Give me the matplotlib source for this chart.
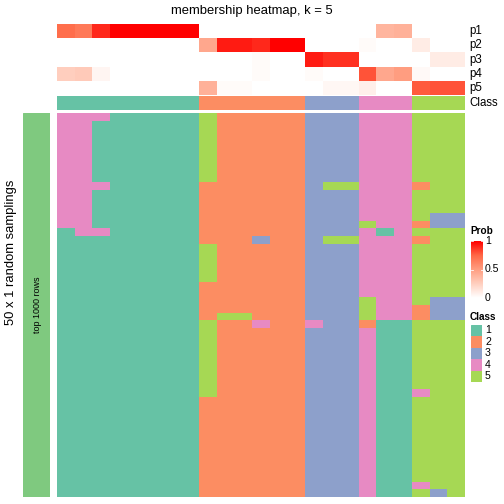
import numpy as np
import matplotlib
matplotlib.use("Agg")
import matplotlib.pyplot as plt
from matplotlib.colors import ListedColormap, LinearSegmentedColormap

plt.rcParams['font.family'] = ['Liberation Sans', 'DejaVu Sans']

# per-column membership probabilities (23 samples)
p1 = [0.72, 0.67, 0.9, 1, 1, 1, 1, 1, 0, 0, 0, 0, 0, 0, 0, 0, 0, 0, 0.38, 0.4, 0, 0, 0]
p2 = [0, 0, 0, 0, 0, 0, 0, 0, 0.45, 0.93, 0.93, 0.9, 1, 1, 0, 0, 0, 0.02, 0, 0, 0.1, 0, 0]
p3 = [0, 0, 0, 0, 0, 0, 0, 0, 0, 0, 0, 0.02, 0, 0, 0.93, 0.88, 0.88, 0, 0, 0, 0, 0.1, 0.1]
p4 = [0.25, 0.27, 0.05, 0, 0, 0, 0, 0, 0, 0, 0, 0.02, 0, 0, 0.02, 0, 0, 0.8, 0.45, 0.5, 0.03, 0, 0]
p5 = [0, 0, 0, 0, 0, 0, 0, 0, 0.4, 0.02, 0.02, 0, 0, 0, 0, 0.04, 0.04, 0.08, 0, 0, 0.78, 0.8, 0.8]
col_class = [1, 1, 1, 1, 1, 1, 1, 1, 2, 2, 2, 2, 2, 2, 3, 3, 3, 4, 4, 4, 5, 5, 5]

# class of each sample in each of the 50 random samplings
samplings = [
    "44411111522222333444555",
    "44111111522222333444555",
    "44111111522222333444555",
    "44111111522222333444555",
    "44111111522222333444555",
    "44111111522222333444555",
    "44111111522222333444555",
    "44111111522222333444555",
    "44111111522222333444555",
    "44411111222222355444255",
    "44111111222222333444555",
    "44111111222222333444555",
    "44111111222222333444555",
    "44111111222222333444533",
    "44111111222222333544233",
    "14411111222222333414555",
    "11111111222322355444255",
    "11111111522222333444555",
    "11111111522222333444555",
    "11111111522222333444555",
    "11111111522222333444555",
    "11111111522222333444555",
    "11111111222222333444555",
    "11111111222222333444555",
    "11111111222222333544533",
    "11111111222222333544233",
    "11111111255222333544233",
    "11111111522422433211555",
    "11111111522222333411555",
    "11111111522222333411555",
    "11111111522222333411555",
    "11111111522222333411555",
    "11111111522222333411555",
    "11111111522222333411555",
    "11111111522222333411555",
    "11111111522222333411555",
    "11111111522222333411455",
    "11111111222222333411555",
    "11111111222222333411555",
    "11111111222222333411555",
    "11111111222222333411555",
    "11111111222222333411555",
    "11111111222222333411555",
    "11111111222222333411555",
    "11111111222222333411555",
    "11111111222222333411555",
    "11111111222222333411555",
    "11111111222222333411555",
    "11111111222222333411455",
    "11111111222222333411535",
]
prob_names = ["p1", "p2", "p3", "p4", "p5"]
class_labels = ["1", "2", "3", "4", "5"]

class_colors = ["#66C2A5", "#FC8D62", "#8DA0CB", "#E78AC3", "#A6D854"]
ccmap = ListedColormap(class_colors)
pcmap = LinearSegmentedColormap.from_list(
    "wr", [(0, "#FFFFFF"), (0.25, "#FFCFBF"), (0.5, "#FF9E81"), (0.75, "#FF6846"), (1, "#FF0000")])

W = H = 504
fig = plt.figure(figsize=(7, 7), dpi=72)


def ax_px(x0, y0, x1, y1):
    a = fig.add_axes([x0 / W, 1 - y1 / H, (x1 - x0) / W, (y1 - y0) / H])
    a.set_axis_off()
    return a


# probability rows
probs = np.array([p1, p2, p3, p4, p5])
ax = ax_px(57, 24, 465, 95)
ax.imshow(probs, cmap=pcmap, vmin=0, vmax=1, aspect="auto", interpolation="nearest")

# class row
ax = ax_px(57, 96, 465, 110)
ax.imshow(np.array([col_class]) - 1, cmap=ccmap, vmin=-0.5, vmax=4.5, aspect="auto",
          interpolation="nearest")

# main body
mat = np.array([[int(c) for c in s] for s in samplings])
ax = ax_px(57, 113, 465, 497)
ax.imshow(mat - 1, cmap=ccmap, vmin=-0.5, vmax=4.5, aspect="auto", interpolation="nearest")

# left annotation
ax = ax_px(23, 113, 50, 497)
ax.add_patch(plt.Rectangle((0, 0), 1, 1, color="#7FC97F"))
ax.set_xlim(0, 1)
ax.set_ylim(0, 1)
ax.text(0.55, 0.5, "top 1000 rows", rotation=90, ha="center", va="center", fontsize=9)

# row labels
row_h = (95 - 24) / 5
for i, nm in enumerate(prob_names):
    fig.text(469 / W, 1 - (24 + row_h * (i + 0.5)) / H, nm, ha="left", va="center", fontsize=11.5)
fig.text(469 / W, 1 - 103 / H, "Class", ha="left", va="center", fontsize=11.5)

fig.text(0.5, 1 - 11 / H, "membership heatmap, k = 5", ha="center", va="center", fontsize=13)
fig.text(11 / W, 1 - 252 / H, "50 x 1 random samplings", rotation=90, ha="center", va="center",
         fontsize=13)

# Prob legend
fig.text(470 / W, 1 - 231 / H, "Prob", ha="left", va="center", fontsize=10, fontweight="bold")
ax = ax_px(471, 241, 483, 298)
grad = np.linspace(1, 0, 100).reshape(-1, 1)
ax.imshow(grad, cmap=pcmap, vmin=0, vmax=1, aspect="auto", extent=[0, 1, 0, 1])
ax.set_xlim(0, 1)
ax.set_ylim(0, 1)
for v in [0, 0.5, 1]:
    ax.plot([0, 0.2], [v, v], color="white", lw=0.8)
    ax.plot([0.8, 1], [v, v], color="white", lw=0.8)
for v, lab in [(1, "1"), (0.5, "0.5"), (0, "0")]:
    fig.text(485 / W, 1 - (298 - 57 * v) / H, lab, ha="left", va="center", fontsize=10.5)

# Class legend
fig.text(470 / W, 1 - 317 / H, "Class", ha="left", va="center", fontsize=10, fontweight="bold")
sw = 11.5
for i, lab in enumerate(class_labels):
    y0 = 324.5 + i * sw
    a = ax_px(471, y0, 481.5, y0 + sw)
    a.add_patch(plt.Rectangle((0, 0), 1, 1, color=class_colors[i]))
    a.set_xlim(0, 1)
    a.set_ylim(0, 1)
    fig.text(485 / W, 1 - (y0 + sw / 2) / H, lab, ha="left", va="center", fontsize=10.5)

fig.savefig("out.png", dpi=72)
